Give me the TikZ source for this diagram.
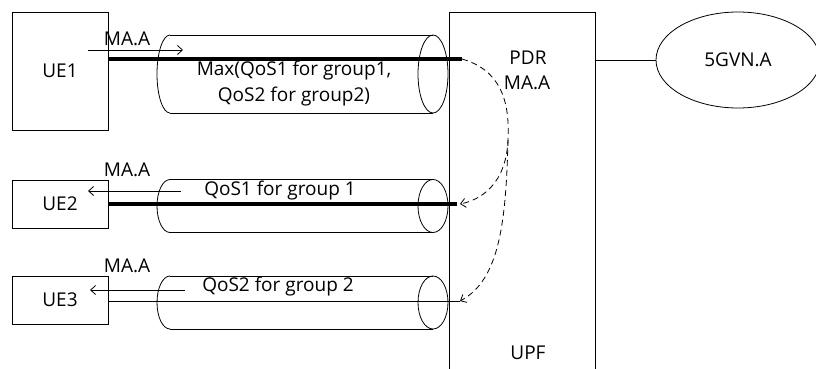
\documentclass[tikz,border=0pt]{standalone}
\usepackage{fontspec}
\setmainfont{Open Sans}
\usetikzlibrary{arrows.meta,shapes.geometric}
\begin{document}
\begin{tikzpicture}[x=1pt,y=-1pt,line width=0.8pt,
  box/.style={draw,rectangle,inner sep=0pt,font=\fontsize{19}{22}\selectfont},
  lbl/.style={inner sep=0pt,font=\fontsize{19}{26}\selectfont,align=center},
  thick line/.style={line width=3.2pt},
  marrow/.style={-{Straight Barb[length=5pt,width=9pt]}},
  darrow/.style={dashed,dash pattern=on 6pt off 4pt,-{Straight Barb[length=5pt,width=9pt]}}]
\useasboundingbox (0,0) rectangle (816,369);
% UE boxes
\node[box,minimum width=96pt,minimum height=118pt] (ue1) at (60,71) {UE1};
\node[box,minimum width=96pt,minimum height=48pt] (ue2) at (60,204) {UE2};
\node[box,minimum width=96pt,minimum height=48pt] (ue3) at (60,300) {UE3};
% UPF box
\draw (449,380) -- (449,12) -- (595,12) -- (595,380);
\coordinate (upfw) at (449,60);
\coordinate (upfe) at (595,60);
\node[lbl] (pdr) at (528,58) {PDR};
\node[lbl] (pdrma) at (527,83) {MA.A};
\node[lbl] (upf) at (528,353) {UPF};
% 5GVN
\node[draw,ellipse,minimum width=164pt,minimum height=96pt,inner sep=0pt,font=\fontsize{19}{22}\selectfont] (vn) at (738,60) {5GVN.A};
\draw (upfe) -- (vn.west);
% cylinders
\foreach \cy/\ry in {74/39, 206/26.5, 302.5/26.5}{
  \draw (433,\cy-\ry) -- (170,\cy-\ry);
  \draw (433,\cy+\ry) -- (170,\cy+\ry);
  \begin{scope}
    \clip (150,\cy-\ry-2) rectangle (170,\cy+\ry+2);
    \draw (170,\cy) ellipse[x radius=13,y radius=\ry];
  \end{scope}
  \draw (433,\cy) ellipse[x radius=15,y radius=\ry];
}
% path lines
\coordinate (e1) at (462,59);
\coordinate (e2) at (460,204);
\coordinate (e3) at (460,301);
\draw[thick line] (ue1.east|-e1) -- (e1);
\draw[thick line] (ue2.east|-e2) -- (457,204);
\draw (ue3.east|-e3) -- (e3);
% MA.A arrows and labels
\coordinate (a1s) at (88,50); \coordinate (a1e) at (183,50);
\draw[marrow] (a1s) -- (a1e);
\node[lbl] (m1) at (127,39) {MA.A};
\coordinate (a2s) at (181,191); \coordinate (a2e) at (88,191);
\draw[marrow] (a2s) -- (a2e);
\node[lbl] (m2) at (127,170) {MA.A};
\coordinate (a3s) at (185,290); \coordinate (a3e) at (90,290);
\draw[marrow] (a3s) -- (a3e);
\node[lbl] (m3) at (127,266) {MA.A};
% tunnel labels
\node[lbl] (t1) at (294,84) {Max(QoS1 for group1,\\QoS2 for group2)};
\node[lbl] (t2) at (280,191) {QoS1 for group 1};
\node[lbl] (t3) at (278,287) {QoS2 for group 2};
% dashed mapping
\coordinate (br) at (508,140);
\draw[darrow] (e1) .. controls (500,70) and (510,100) .. (br) .. controls (506,185) and (480,200) .. (e2);
\draw[darrow] (br) .. controls (506,220) and (500,280) .. (e3);
\end{tikzpicture}
\end{document}
